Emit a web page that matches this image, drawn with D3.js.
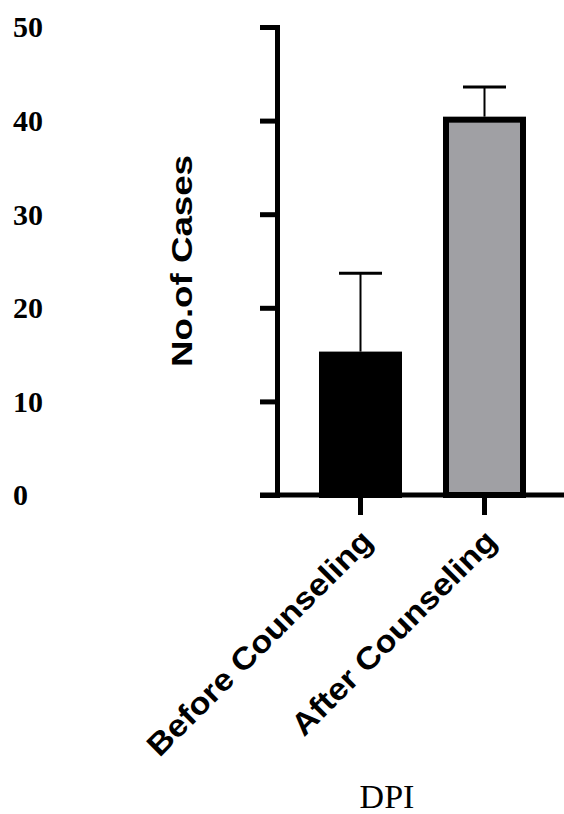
<!DOCTYPE html>
<html>
<head>
<meta charset="utf-8">
<script src="https://cdn.jsdelivr.net/npm/d3@7"></script>
<style>
  html, body { margin: 0; padding: 0; background: #fff; }
  svg { display: block; }
</style>
</head>
<body>
<div id="chart"></div>
<script>
// data
var categories = ['Before Counseling', 'After Counseling']
var means = [15, 40.1]
var errorTops = [23.7, 43.6]
var barColors = ['#000000', '#a0a0a4']
var yTicks = [0, 10, 20, 30, 40, 50]

var width = 564
var height = 814

var svg = d3
  .select('#chart')
  .append('svg')
  .attr('width', width)
  .attr('height', height)

// scales
var yScale = d3.scaleLinear().domain([0, 50]).range([495, 27])

var xScale = d3
  .scaleBand()
  .domain(categories)
  .range([298.5, 546.5])
  .paddingInner(0.379)
  .paddingOuter(0.1895)

var axisX = 277

// y axis
var yAxis = d3
  .axisLeft(yScale)
  .tickValues(yTicks)
  .tickSizeInner(17)
  .tickSizeOuter(0)
  .tickPadding(0)

var yg = svg
  .append('g')
  .attr('transform', 'translate(' + axisX + ',0)')
  .call(yAxis)

yg.select('.domain')
  .attr('stroke', '#000')
  .attr('stroke-width', 5)
  .attr('stroke-linecap', 'square')
yg.selectAll('.tick line').attr('stroke', '#000').attr('stroke-width', 5)
yg.selectAll('.tick text')
  .attr('x', 13 - axisX)
  .attr('dy', '0.33em')
  .attr('text-anchor', 'start')
  .attr('fill', '#000')
  .style('font-family', '"Liberation Serif", "Times New Roman", serif')
  .style('font-weight', 'bold')
  .style('font-size', '30px')

// bars
svg
  .append('g')
  .selectAll('rect')
  .data(categories)
  .enter()
  .append('rect')
  .attr('x', function(d) { return xScale(d) })
  .attr('y', function(d, i) { return yScale(means[i]) })
  .attr('width', xScale.bandwidth())
  .attr('height', function(d, i) { return yScale(0) - yScale(means[i]) })
  .attr('fill', function(d, i) { return barColors[i] })
  .attr('stroke', '#000')
  .attr('stroke-width', 6)

// error bars (upper only)
var eb = svg.append('g')
categories.forEach(function(c, i) {
  var cx = xScale(c) + xScale.bandwidth() / 2
  eb.append('line')
    .attr('x1', cx).attr('x2', cx)
    .attr('y1', yScale(means[i]) - 3)
    .attr('y2', yScale(errorTops[i]))
    .attr('stroke', '#000')
    .attr('stroke-width', 2)
  eb.append('line')
    .attr('x1', cx - 21.5).attr('x2', cx + 21.5)
    .attr('y1', yScale(errorTops[i]))
    .attr('y2', yScale(errorTops[i]))
    .attr('stroke', '#000')
    .attr('stroke-width', 3)
})

// x axis
var xAxis = d3.axisBottom(xScale).tickSizeInner(20).tickSizeOuter(0).tickFormat('')
var xg = svg
  .append('g')
  .attr('transform', 'translate(0,' + yScale(0) + ')')
  .call(xAxis)
xg.select('.domain').remove()
xg.selectAll('.tick line').attr('stroke', '#000').attr('stroke-width', 5)
xg.append('line')
  .attr('x1', 260).attr('x2', width)
  .attr('y1', 0).attr('y2', 0)
  .attr('stroke', '#000')
  .attr('stroke-width', 5)

// category labels, rotated
var labelLengths = [304, 275]
svg
  .append('g')
  .selectAll('text')
  .data(categories)
  .enter()
  .append('text')
  .attr('transform', function(d) {
    var cx = xScale(d) + xScale.bandwidth() / 2
    return 'translate(' + (cx + 14) + ',543) rotate(-45)'
  })
  .attr('text-anchor', 'end')
  .attr('textLength', function(d, i) { return labelLengths[i] })
  .attr('lengthAdjust', 'spacingAndGlyphs')
  .style('font-family', '"Liberation Sans", Arial, sans-serif')
  .style('font-weight', 'bold')
  .style('font-size', '31px')
  .text(function(d) { return d })

// axis titles
svg
  .append('text')
  .attr('transform', 'translate(192,261) rotate(-90)')
  .attr('text-anchor', 'middle')
  .attr('textLength', 212)
  .attr('lengthAdjust', 'spacingAndGlyphs')
  .style('font-family', '"Liberation Sans", Arial, sans-serif')
  .style('font-weight', 'bold')
  .style('font-size', '30px')
  .text('No.of Cases')

svg
  .append('text')
  .attr('x', 387)
  .attr('y', 808)
  .attr('text-anchor', 'middle')
  .style('font-family', '"Liberation Serif", "Times New Roman", serif')
  .style('font-size', '34px')
  .text('DPI')
</script>
</body>
</html>
